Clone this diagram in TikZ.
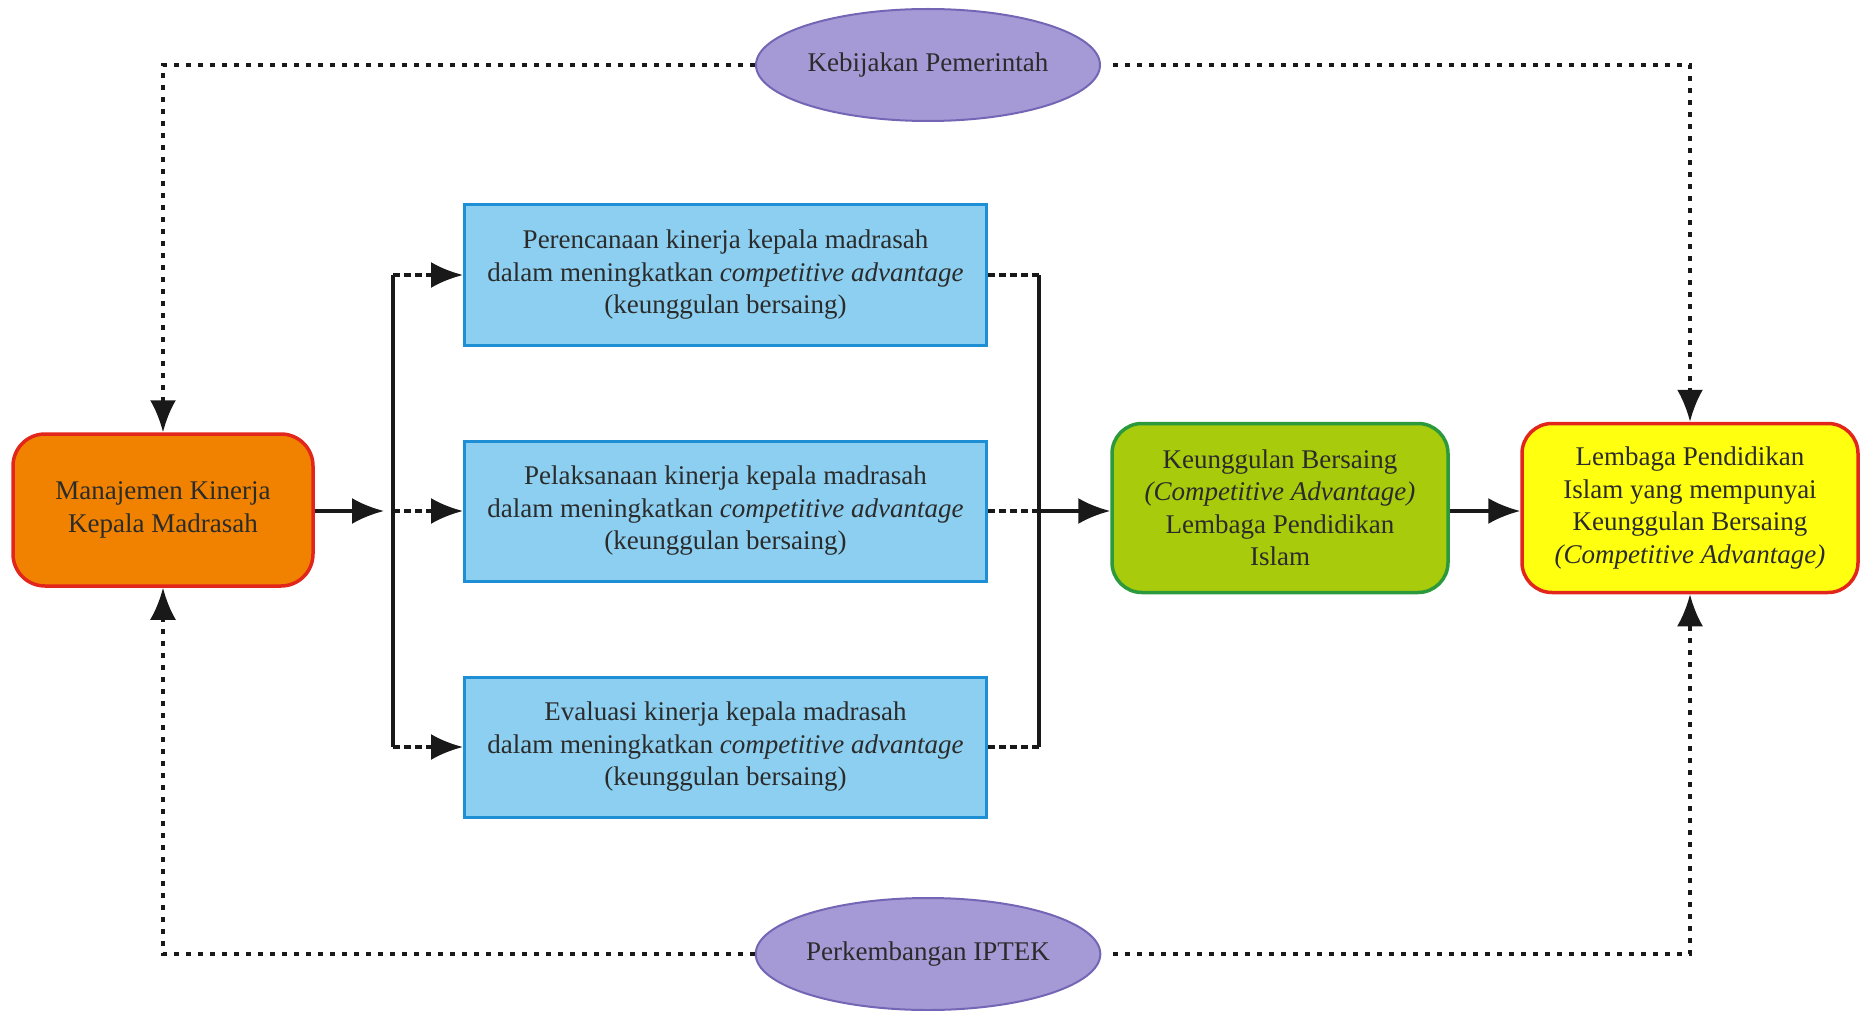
\documentclass[tikz,border=0pt]{standalone}
\usepackage{fontspec}
\setmainfont{Liberation Serif}
\usetikzlibrary{arrows.meta,shapes.geometric}
\definecolor{orfill}{HTML}{F08200}
\definecolor{redline}{HTML}{E3261C}
\definecolor{blfill}{HTML}{8CCFF0}
\definecolor{blline}{HTML}{1E8FD5}
\definecolor{grfill}{HTML}{A8CB0C}
\definecolor{grline}{HTML}{2C9A3C}
\definecolor{yefill}{HTML}{FFFF10}
\definecolor{elfill}{HTML}{A59AD6}
\definecolor{elline}{HTML}{7466B5}
\definecolor{txt}{HTML}{2B2B2B}
\tikzset{
  basebox/.style={align=center, text=txt, font=\fontsize{27}{32.5}\selectfont, inner sep=0pt},
  mgmt/.style={basebox, rectangle, rounded corners=32pt, fill=orfill, draw=redline, line width=3.5pt, minimum width=300pt, minimum height=152pt},
  proc/.style={basebox, rectangle, fill=blfill, draw=blline, line width=3pt, minimum width=522pt, minimum height=140pt},
  resbox/.style={basebox, rectangle, rounded corners=30pt, line width=3.5pt, minimum width=336pt, minimum height=169pt},
  oval/.style={basebox, ellipse, fill=elfill, draw=elline, line width=2pt, minimum width=344pt, minimum height=112pt},
  solidln/.style={line width=3.5pt, draw=black!90},
  dotln/.style={line width=3.5pt, draw=black!90, dash pattern=on 5pt off 7pt},
  shortdash/.style={line width=3.5pt, draw=black!90, dash pattern=on 7pt off 4pt},
  tip/.style={-{Latex[length=32pt,width=26pt]}}
}
\begin{document}
\begin{tikzpicture}[x=1pt,y=-1pt]
\useasboundingbox (0,0) rectangle (1860,1011);
\node[mgmt] (m) at (163,510) {Manajemen Kinerja\\Kepala Madrasah};
\node[proc] (p1) at (725.5,275) {Perencanaan kinerja kepala madrasah\\dalam meningkatkan \textit{competitive advantage}\\(keunggulan bersaing)};
\node[proc] (p2) at (725.5,511) {Pelaksanaan kinerja kepala madrasah\\dalam meningkatkan \textit{competitive advantage}\\(keunggulan bersaing)};
\node[proc] (p3) at (725.5,747) {Evaluasi kinerja kepala madrasah\\dalam meningkatkan \textit{competitive advantage}\\(keunggulan bersaing)};
\node[resbox, fill=grfill, draw=grline] (g) at (1280,508) {Keunggulan Bersaing\\\textit{(Competitive Advantage)}\\Lembaga Pendidikan\\Islam};
\node[resbox, fill=yefill, draw=redline] (y) at (1690,508) {Lembaga Pendidikan\\Islam yang mempunyai\\Keunggulan Bersaing\\\textit{(Competitive Advantage)}};
\node[oval] (k) at (928,65) {Kebijakan Pemerintah};
\node[oval] (i) at (928,954) {Perkembangan IPTEK};
\coordinate (jl) at (393,511);
\coordinate (jlt) at (393,275);
\coordinate (jlb) at (393,747);
\coordinate (jr) at (1039,511);
\coordinate (jrt) at (1039,275);
\coordinate (jrb) at (1039,747);
% left fork
\draw[solidln, tip, shorten >=9pt] (m.east |- jl) -- (jl);
\draw[solidln] (jlt) -- (jlb);
\draw[shortdash, tip] (jlt) -- (p1.west);
\draw[shortdash, tip] (jl) -- (p2.west |- jl);
\draw[shortdash, tip] (jlb) -- (p3.west);
% right join
\draw[shortdash] (p1.east) -- (jrt);
\draw[shortdash] (p2.east) -- (jr);
\draw[shortdash] (p3.east) -- (jrb);
\draw[solidln] (jrt) -- (jrb);
\draw[solidln, tip] (jr) -- (g.west |- jr);
\draw[solidln, tip] (g.east |- jr) -- (y.west |- jr);
% outer dotted loops
\draw[dotln, tip] (k.west) -| (m.north);
\draw[dotln, tip, shorten <=12pt] (k.east) -| (y.north);
\draw[dotln, tip] (i.west) -| (m.south);
\draw[dotln, tip, shorten <=12pt] (i.east) -| (y.south);
\end{tikzpicture}
\end{document}
